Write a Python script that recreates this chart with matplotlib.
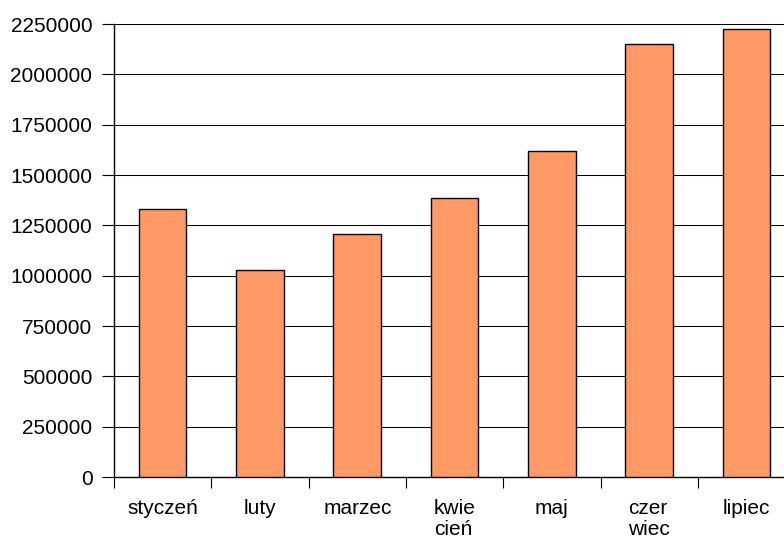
import matplotlib.pyplot as plt
from matplotlib.ticker import FixedLocator, NullFormatter

plt.rcParams["font.family"] = ["Liberation Sans", "DejaVu Sans"]

months = ["styczeń", "luty", "marzec", "kwie\ncień", "maj", "czer\nwiec", "lipiec"]
values = [1333000, 1027000, 1205000, 1384000, 1619000, 2152000, 2226000]
y_ticks = list(range(0, 2250001, 250000))

fig = plt.figure(figsize=(7.84, 5.42), dpi=100)
ax = fig.add_axes([0.1454, 0.1199, 0.8689, 0.8358])

x = list(range(len(months)))
ax.bar(x, values, width=0.49, color="#FF9966", edgecolor="black", linewidth=1.0, zorder=3)

ax.set_xlim(-0.5, len(months) - 0.5)
ax.set_ylim(0, 2250000)
ax.set_yticks(y_ticks)
ax.set_yticklabels([str(v) for v in y_ticks])
ax.yaxis.grid(True, color="black", linewidth=0.75, zorder=0)

ax.xaxis.set_major_locator(FixedLocator([i - 0.5 for i in range(len(months) + 1)]))
ax.xaxis.set_major_formatter(NullFormatter())
ax.xaxis.set_minor_locator(FixedLocator(x))
ax.set_xticklabels(months, minor=True)
ax.tick_params(axis="x", which="major", length=8, width=0.8, direction="out")
ax.tick_params(axis="x", which="minor", length=0, pad=16, labelsize=15)
ax.tick_params(axis="y", length=8.5, width=0.8, direction="out", pad=7, labelsize=15)
for lbl in ax.get_xticklabels(minor=True):
    lbl.set_multialignment("left")
    lbl.set_linespacing(1.15)

for side in ("top", "right"):
    ax.spines[side].set_visible(False)
for side in ("left", "bottom"):
    ax.spines[side].set_linewidth(1.0)

fig.savefig("out.png", dpi=100)
